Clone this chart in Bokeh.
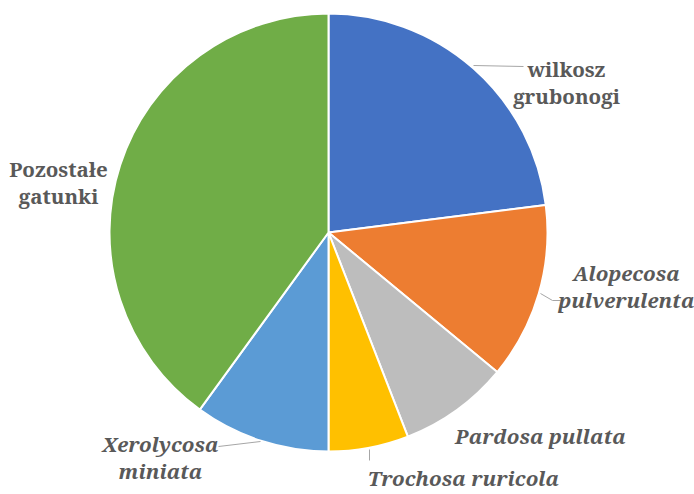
import math
from bokeh.plotting import figure
from bokeh.models import Range1d, ColumnDataSource
from bokeh.core.properties import value
from bokeh.embed import file_html
from bokeh.resources import INLINE

# --- data ---
categories = ["wilkosz grubonogi", "Alopecosa pulverulenta", "Pardosa pullata",
              "Trochosa ruricola", "Xerolycosa miniata", "Pozostałe gatunki"]
shares = [23.0, 13.0, 8.1, 5.9, 10.0, 40.0]
colors = ["#4472C4", "#ED7D31", "#BDBDBD", "#FFC000", "#5B9BD5", "#70AD47"]
label_lines = [["wilkosz", "grubonogi"], ["Alopecosa", "pulverulenta"], ["Pardosa pullata"],
               ["Trochosa ruricola"], ["Xerolycosa", "miniata"], ["Pozostałe", "gatunki"]]
italic = [False, True, True, True, True, False]

# --- layout ---
W, H = 694, 494
cx, cy, R = 328, 262, 219
label_pos = [(566, 426), (626, 222), (540, 59), (463, 17), (160, 51), (58, 326)]
line_gap = 27
leaders = [([473, 523], [429, 428]),
           ([540, 552, 560], [201, 194, 194]),
           None,
           ([369, 369], [45, 34]),
           ([218, 260], [48, 53]),
           None]

total = sum(shares)
starts, ends = [], []
acc = 0.0
for s in shares:
    starts.append(math.pi / 2 - 2 * math.pi * acc / total)
    acc += s
    ends.append(math.pi / 2 - 2 * math.pi * acc / total)

p = figure(width=W, height=H, output_backend="svg", toolbar_location=None,
           x_range=Range1d(0, W), y_range=Range1d(0, H), min_border=0)
p.axis.visible = False
p.grid.visible = False
p.outline_line_color = None
p.background_fill_color = "white"

src = ColumnDataSource(dict(start=starts, end=ends, color=colors, name=categories))
p.wedge(x=cx, y=cy, radius=R, start_angle="start", end_angle="end", direction="clock",
        fill_color="color", line_color="white", line_width=2, source=src)

xs, ys = [], []
for ld in leaders:
    if ld:
        xs.append(ld[0]); ys.append(ld[1])
p.multi_line(xs=xs, ys=ys, line_color="#A6A6A6", line_width=1)

tx, ty, tt, ts = [], [], [], []
for (lx, lyy), lines, it in zip(label_pos, label_lines, italic):
    for i, ln in enumerate(lines):
        tx.append(lx); ty.append(lyy - i * line_gap); tt.append(ln)
        ts.append("bold italic" if it else "bold")
tsrc = ColumnDataSource(dict(x=tx, y=ty, text=tt, style=ts))
p.text(x="x", y="y", text="text", source=tsrc,
       text_font=value("Noto Serif"),
       text_font_size="20.5px", text_font_style="style", text_color="#595959",
       text_align="center", text_baseline="alphabetic")

open("out.html", "w").write(file_html(p, INLINE))
